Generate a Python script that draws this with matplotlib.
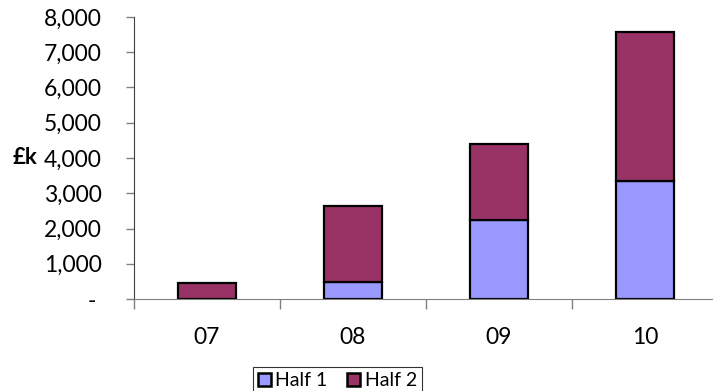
import matplotlib.pyplot as plt
from matplotlib.patches import Patch
from matplotlib.ticker import FixedLocator, FuncFormatter
import numpy as np

years = ["07", "08", "09", "10"]
half1 = [0, 490, 2245, 3360]
half2 = [463, 2150, 2155, 4215]

c1 = "#9999FF"
c2 = "#993366"

plt.rcParams['font.family'] = ['Lato', 'DejaVu Sans']

fig = plt.figure(figsize=(7.13, 3.91), dpi=100)
ax = fig.add_axes([134 / 713, 92 / 391, 579 / 713, 282 / 391])

x = np.arange(len(years))
ax.bar(x, half1, width=0.4, color=c1, edgecolor="black", linewidth=1.6)
ax.bar(x, half2, width=0.4, bottom=half1, color=c2, edgecolor="black", linewidth=1.6)

ax.set_xlim(-0.5, 3.466)
ax.set_ylim(0, 8000)

ax.set_yticks(range(0, 8001, 1000))
ax.yaxis.set_major_formatter(FuncFormatter(lambda v, p: "- " if v == 0 else f"{int(v):,}"))
ax.tick_params(axis="y", length=6, width=1, color="#808080", pad=17, labelsize=16.5)

ax.xaxis.set_major_locator(FixedLocator([-0.5, 0.5, 1.5, 2.5, 3.5]))
ax.xaxis.set_major_formatter(FuncFormatter(lambda v, p: ""))
ax.xaxis.set_minor_locator(FixedLocator(x))
ax.set_xticklabels(years, minor=True)
ax.tick_params(axis="x", which="major", length=7, width=1, color="#808080")
ax.tick_params(axis="x", which="minor", length=0, pad=20, labelsize=16.5)

for s in ["top", "right"]:
    ax.spines[s].set_visible(False)
ax.spines["left"].set_color("#404040")
ax.spines["bottom"].set_color("#808080")

fig.text(13 / 713, 1 - 157 / 391, "£k", fontsize=16, fontweight="bold", va="center", ha="left")

handles = [Patch(facecolor=c1, edgecolor="black", linewidth=1.8, label="Half 1"),
           Patch(facecolor=c2, edgecolor="black", linewidth=1.8, label="Half 2")]
leg = fig.legend(handles=handles, loc="upper left", bbox_to_anchor=(253 / 713, 1 - 367 / 391),
                 ncol=2, frameon=True, fancybox=False, fontsize=14, handlelength=0.65,
                 handleheight=0.65, handletextpad=0.25, columnspacing=1.0, borderpad=0.25,
                 borderaxespad=0)
leg.get_frame().set_edgecolor("black")
leg.get_frame().set_linewidth(0.8)

fig.savefig("out.png", dpi=100)
